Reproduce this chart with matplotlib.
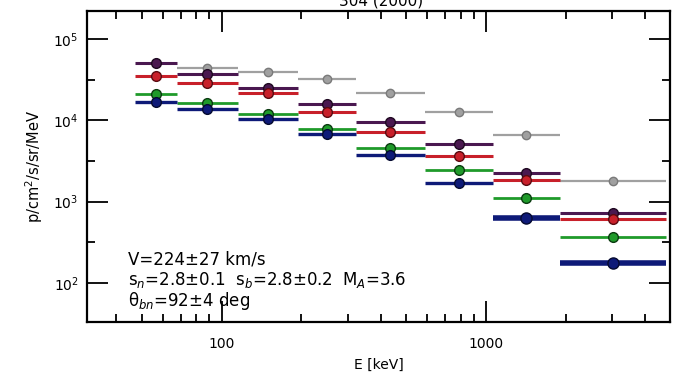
import numpy as np
import matplotlib
matplotlib.use('Agg')
import matplotlib.pyplot as plt
from matplotlib.ticker import FixedLocator, NullFormatter

# energy channels (keV)
e_lo = [47, 68, 115, 195, 321, 587, 1060, 1900]
e_hi = [68, 115, 195, 321, 587, 1060, 1900, 4800]

# intensities p/cm2/s/sr/MeV
grey = [np.nan, 44000, 39300, 31800, 21700, 12700, 6600, 1795]
purple = [50700, 37200, 25000, 15900, 9400, 5120, 2250, 726]
red = [35100, 28800, 21400, 12700, 7080, 3640, 1845, 613]
green = [21100, 16300, 11970, 7700, 4570, 2410, 1110, 368]
blue = [16800, 13800, 10400, 6790, 3700, 1670, 630, 176]

title = '304 (2000)'
info = ['V=224\u00b127 km/s',
        's$_n$=2.8\u00b10.1  s$_b$=2.8\u00b10.2  M$_A$=3.6',
        '\u03b8$_{bn}$=92\u00b14 deg']

series = [
    (grey, '#a0a0a0', '#7a7a7a', 1.6, 6),
    (purple, '#4a1850', '#1e0820', 2.2, 7),
    (red, '#c8202a', '#5a0a10', 2.2, 7),
    (green, '#1f9a2a', '#0a3a10', 2.0, 7),
    (blue, '#0e1a78', '#050a30', 2.4, 7),
]

e_lo = np.array(e_lo, float)
e_hi = np.array(e_hi, float)
e_mid = np.sqrt(e_lo * e_hi)

fig = plt.figure(figsize=(6.74, 3.82), dpi=100)
ax = fig.add_axes([0.129, 0.157, 0.865, 0.814])

for vals, c, ec, lw, ms in series:
    vals = np.array(vals, float)
    widths = np.full(len(vals), lw)
    if c == '#0e1a78':
        widths[6:] = 4.0
    for i in range(len(vals)):
        if np.isnan(vals[i]):
            continue
        ax.plot([e_lo[i], e_hi[i]], [vals[i], vals[i]], color=c, lw=widths[i],
                solid_capstyle='butt', zorder=2)
        ax.plot(e_mid[i], vals[i], 'o', color=c, mec=ec, mew=1.0,
                ms=ms + (1 if widths[i] > 3 else 0), zorder=3)

ax.set_xscale('log')
ax.set_yscale('log')
ax.set_xlim(31, 4950)
ax.set_ylim(33, 2.2e5)

ax.xaxis.set_major_locator(FixedLocator([100, 1000]))
ax.set_xticklabels(['100', '1000'])
xminor = [v * d for d in [10, 100, 1000] for v in range(2, 10)]
ax.xaxis.set_minor_locator(FixedLocator(xminor))
ax.xaxis.set_minor_formatter(NullFormatter())

ax.yaxis.set_major_locator(FixedLocator([1e2, 1e3, 1e4, 1e5]))
ax.set_yticklabels(['10$^2$', '10$^3$', '10$^4$', '10$^5$'])
ax.yaxis.set_minor_locator(FixedLocator([10 ** (n + 0.5) for n in range(1, 6)]))
ax.yaxis.set_minor_formatter(NullFormatter())

ax.tick_params(which='both', direction='in', top=True, right=True,
               width=1.3, labelsize=10)
ax.tick_params(axis='x', pad=11)
ax.tick_params(axis='y', pad=6)
ax.tick_params(which='major', length=15)
ax.tick_params(which='minor', length=6)
for s in ax.spines.values():
    s.set_linewidth(1.6)

ax.set_xlabel('E [keV]', fontsize=10, labelpad=5)
ax.set_ylabel('p/cm$^2$/s/sr/MeV', fontsize=10.5, labelpad=6)

fig.text(0.565, 0.985, title, ha='center', va='baseline', fontsize=11)

for k, line in enumerate(info):
    ax.text(0.07, 0.2 - k * 0.066, line, transform=ax.transAxes,
            fontsize=12, va='center', ha='left')

fig.savefig('out.png', dpi=100)
